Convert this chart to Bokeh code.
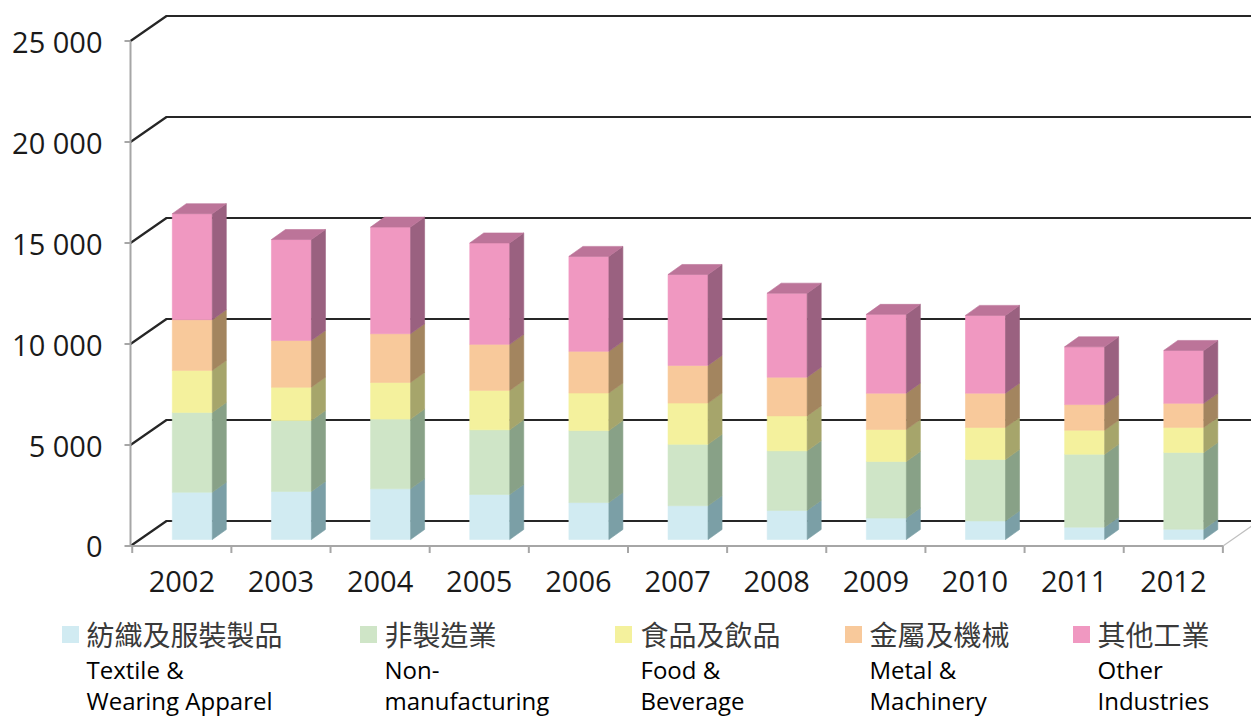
import numpy as np
from bokeh.plotting import figure
from bokeh.models import Range1d
from bokeh.core.properties import value
from bokeh.embed import file_html
from bokeh.resources import INLINE

# ---------------- data ----------------
years = ["2002", "2003", "2004", "2005", "2006", "2007", "2008", "2009", "2010", "2011", "2012"]
textile = [2340, 2380, 2510, 2230, 1830, 1670, 1440, 1060, 920, 610, 510]
non_manufacturing = [3950, 3510, 3450, 3200, 3560, 3040, 2950, 2800, 3040, 3610, 3800]
food = [2080, 1650, 1815, 1950, 1865, 2045, 1730, 1585, 1585, 1190, 1240]
metal = [2510, 2310, 2410, 2280, 2060, 1865, 1915, 1800, 1700, 1270, 1190]
other = [5250, 5000, 5280, 5020, 4700, 4500, 4160, 3900, 3850, 2860, 2620]

series_zh = ["紡織及服裝製品", "非製造業", "食品及飲品", "金屬及機械", "其他工業"]
series_en = [["Textile &", "Wearing Apparel"], ["Non-", "manufacturing"],
             ["Food &", "Beverage"], ["Metal &", "Machinery"], ["Other", "Industries"]]
y_ticks = [0, 5000, 10000, 15000, 20000, 25000]
y_tick_labels = ["0", "5 000", "10 000", "15 000", "20 000", "25 000"]

face_colors = ["#d1ebf2", "#cfe5c7", "#f4f19d", "#f8c99b", "#f098c1"]
side_colors = ["#7b9fa6", "#88a187", "#a6a56b", "#a3855f", "#9a6180"]
top_color = "#bc7499"

# ---------------- layout helpers (page pixels -> data) ----------------
W, H = 1251, 718
X0, XS = 181.3, 99.15          # px of category 0 centre, px per category
Y0, YS = 545.5, 20.2 / 1000.0  # px of value 0, px per unit value


def px_x(X):
    return (X - X0) / XS


def px_y(Y):
    return (Y0 - Y) / YS


def len_x(px):
    return px / XS


def len_y(px):
    return px / YS


p = figure(width=W, height=H, output_backend="svg", toolbar_location=None,
           x_range=Range1d(px_x(0), px_x(W)), y_range=Range1d(px_y(H), px_y(0)),
           min_border=0, outline_line_color=None)
p.axis.visible = False
p.grid.visible = False
p.background_fill_color = "white"
p.border_fill_color = "white"

n = len(years)
idx = np.arange(n)
axis_x = px_x(130)
wall_dx, wall_dy = len_x(36), len_y(25)
x_end = px_x(1300)

# back wall + side wall gridlines
gxs, gys = [], []
for v in y_ticks:
    gxs.append([axis_x, axis_x + wall_dx, x_end])
    gys.append([v, v + wall_dy, v + wall_dy])
p.multi_line(gxs, gys, line_color="#262626", line_width=2.2)

# floor front edge and right diagonal
floor_right = px_x(1222.5)
p.line([axis_x, floor_right], [0, 0], line_color="#a6a6a6", line_width=2)
p.line([floor_right, floor_right + wall_dx], [0, wall_dy], line_color="#bfbfbf", line_width=1.2)
tick_len = len_y(7)
txs = [[-0.5 + k, -0.5 + k] for k in range(n + 1)]
tys = [[0, -tick_len] for _ in range(n + 1)]
p.multi_line(txs, tys, line_color="#a6a6a6", line_width=2)

# front value axis
p.line([axis_x, axis_x], [0, y_ticks[-1]], line_color="#a6a6a6", line_width=2)
p.multi_line([[axis_x - len_x(6), axis_x] for _ in y_ticks], [[v, v] for v in y_ticks],
             line_color="#a6a6a6", line_width=2)

# y tick labels
p.text(x=[px_x(102)] * len(y_ticks), y=y_ticks, text=y_tick_labels,
       text_font=value("Open Sans"), text_font_size=value("29px"), text_color="#1a1a1a",
       text_align="right", text_baseline="middle")

# year labels
p.text(x=idx.tolist(), y=[px_y(581)] * n, text=years,
       text_font=value("Open Sans"), text_font_size=value("29px"), text_color="#1a1a1a",
       text_align="center", text_baseline="middle")

# ---------------- 3D stacked bars ----------------
base = len_y(6.5)
bar_off = len_x(10.5)
half_w = len_x(20)
sdx, sdy = len_x(14), len_y(10)
centers = idx + bar_off
L = centers - half_w
R = centers + half_w

data = [textile, non_manufacturing, food, metal, other]
cum = np.zeros(n)
for s, vals in enumerate(data):
    vals = np.array(vals, dtype=float)
    bot = base + cum
    top = base + cum + vals
    p.quad(left=L, right=R, bottom=bot, top=top, fill_color=face_colors[s],
           line_color=face_colors[s], line_width=0.6)
    xs = [[r, r + sdx, r + sdx, r] for r in R]
    ys = [[b, b + sdy, t + sdy, t] for b, t in zip(bot, top)]
    p.patches(xs, ys, fill_color=side_colors[s], line_color=side_colors[s], line_width=0.6)
    cum = cum + vals

# top faces
txs = [[l, l + sdx, r + sdx, r] for l, r in zip(L, R)]
tys = [[t, t + sdy, t + sdy, t] for t in base + cum]
p.patches(txs, tys, fill_color=top_color, line_color=top_color, line_width=0.6)

# ---------------- legend ----------------
sq_x = [70, 368, 623, 853, 1081]
txt_x = [86, 384, 640, 869, 1097]
p.rect(x=[px_x(v) for v in sq_x], y=[px_y(634)] * 5, width=17, height=17,
       width_units="screen", height_units="screen", fill_color=face_colors,
       line_color=None)
p.text(x=[px_x(v) for v in txt_x], y=[px_y(633)] * 5, text=series_zh,
       text_font=value("Noto Sans CJK TC"), text_font_size=value("28px"), text_color="#3a3a3a",
       text_align="left", text_baseline="middle")
p.text(x=[px_x(v) for v in txt_x], y=[px_y(669)] * 5, text=[e[0] for e in series_en],
       text_font=value("Open Sans"), text_font_size=value("24px"), text_color="#000000",
       text_align="left", text_baseline="middle")
p.text(x=[px_x(v) for v in txt_x], y=[px_y(700)] * 5, text=[e[1] for e in series_en],
       text_font=value("Open Sans"), text_font_size=value("24px"), text_color="#000000",
       text_align="left", text_baseline="middle")

open("out.html", "w").write(file_html(p, INLINE))
